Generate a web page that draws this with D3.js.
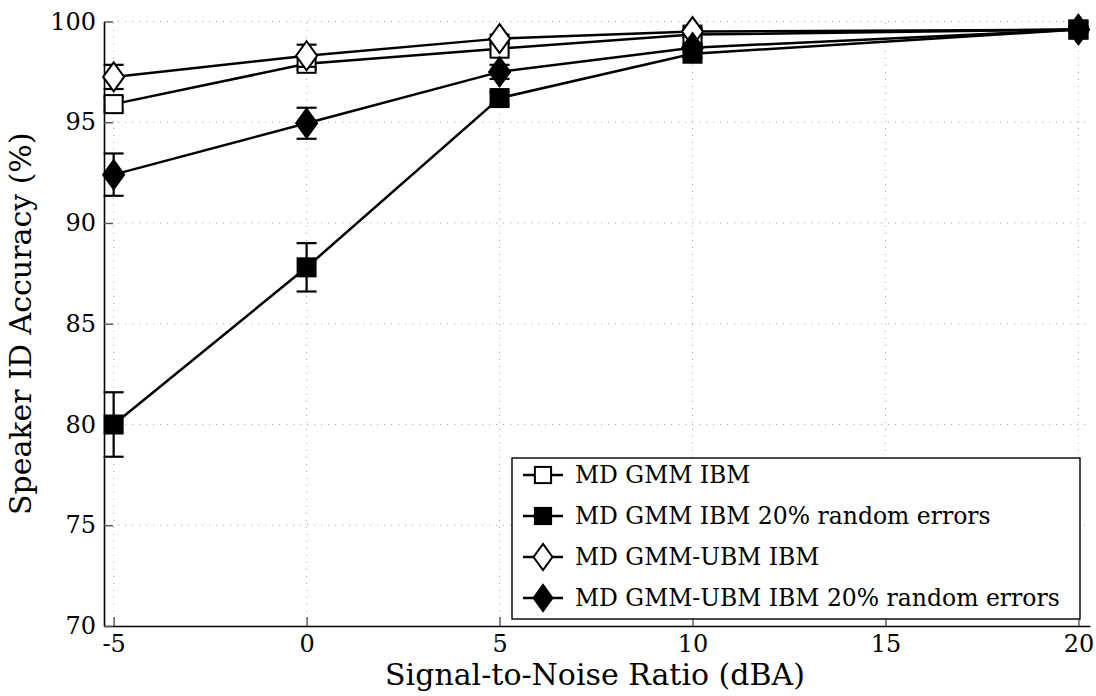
<!DOCTYPE html>
<html>
<head>
<meta charset="utf-8">
<script src="https://cdn.jsdelivr.net/npm/d3@7"></script>
<style>
  html, body { margin: 0; padding: 0; background: #fff; }
  svg { display: block; }
  text { font-family: "DejaVu Serif", serif; fill: #000; }
</style>
</head>
<body>
<svg id="chart" width="1096" height="696"></svg>
<script>
// ---- data ----
const snr = [-5, 0, 5, 10, 20];
const xTicks = [-5, 0, 5, 10, 15, 20];
const yTicks = [70, 75, 80, 85, 90, 95, 100];

const seriesNames = [
  "MD GMM IBM",
  "MD GMM IBM 20% random errors",
  "MD GMM-UBM IBM",
  "MD GMM-UBM IBM 20% random errors"
];
const gmmIbm        = [95.9, 97.9, 98.65, 99.35, 99.6];
const gmmIbmErr     = [0.35, 0.3, 0.2, 0.15, 0.1];
const gmmIbmRand    = [80.0, 87.8, 96.2, 98.4, 99.6];
const gmmIbmRandErr = [1.6, 1.2, 0.3, 0.2, 0.1];
const ubmIbm        = [97.25, 98.3, 99.15, 99.5, 99.6];
const ubmIbmErr     = [0.6, 0.55, 0.2, 0.15, 0.1];
const ubmIbmRand    = [92.4, 94.95, 97.5, 98.7, 99.6];
const ubmIbmRandErr = [1.05, 0.77, 0.35, 0.2, 0.1];

const markers = ["square", "square", "diamond", "diamond"];
const fills   = ["#fff", "#000", "#fff", "#000"];
const values  = [gmmIbm, gmmIbmRand, ubmIbm, ubmIbmRand];
const errors  = [gmmIbmErr, gmmIbmRandErr, ubmIbmErr, ubmIbmRandErr];

const series = seriesNames.map((name, i) => ({
  name, marker: markers[i], fill: fills[i],
  points: snr.map((s, j) => ({ x: s, y: values[i][j], e: errors[i][j] }))
}));

// ---- layout ----
const svg = d3.select("#chart");
const mLeft = 104, mRight = 1090, mTop = 21.5, mBottom = 626;
const x = d3.scaleLinear().domain([-5.25, 20.3]).range([mLeft, mRight]);
const y = d3.scaleLinear().domain([70, 100]).range([mBottom, mTop]);
const tickFont = 24, legendFont = 23.5, labelFont = 30;

// grid
const grid = svg.append("g").attr("stroke", "#aaa").attr("stroke-width", 1)
  .attr("stroke-dasharray", "1.2,5.8");
grid.selectAll("line.gx").data(xTicks).join("line").attr("class", "gx")
  .attr("x1", d => x(d)).attr("x2", d => x(d))
  .attr("y1", mBottom).attr("y2", mTop);
grid.selectAll("line.gy").data(yTicks.filter(d => d > 70)).join("line").attr("class", "gy")
  .attr("y1", d => y(d)).attr("y2", d => y(d))
  .attr("x1", mLeft).attr("x2", mRight);

// axes
const fmt = d => String(d);
const xAxis = svg.append("g").attr("transform", `translate(0,${mBottom})`)
  .call(d3.axisBottom(x).tickValues(xTicks).tickFormat(fmt)
    .tickSizeInner(-9).tickSizeOuter(0).tickPadding(9));
const yAxis = svg.append("g").attr("transform", `translate(${mLeft},0)`)
  .call(d3.axisLeft(y).tickValues(yTicks).tickFormat(fmt)
    .tickSizeInner(-9).tickSizeOuter(0).tickPadding(8));
[xAxis, yAxis].forEach(a => {
  a.attr("font-size", null).attr("font-family", null);
  a.select(".domain").attr("stroke", "#000").attr("stroke-width", 1.6);
  a.selectAll(".tick line").attr("stroke", "#555").attr("stroke-width", 1.4);
  a.selectAll(".tick text").style("font-family", "DejaVu Serif")
    .style("font-size", tickFont + "px").attr("fill", "#000");
});

// axis titles
svg.append("text").attr("x", (mLeft + mRight) / 2 - 2).attr("y", 685)
  .attr("text-anchor", "middle").style("font-size", labelFont + "px")
  .text("Signal-to-Noise Ratio (dBA)");
svg.append("text")
  .attr("transform", `translate(31,${(mTop + mBottom) / 2}) rotate(-90)`)
  .attr("text-anchor", "middle").style("font-size", labelFont + "px")
  .text("Speaker ID Accuracy (%)");

// marker drawing
function drawMarker(g, type, fill, cx, cy, scale = 1) {
  if (type === "square") {
    const s = 18 * scale;
    g.append("rect").attr("x", cx - s / 2).attr("y", cy - s / 2)
      .attr("width", s).attr("height", s)
      .attr("fill", fill).attr("stroke", "#000").attr("stroke-width", 2);
  } else {
    const w = 10.5 * scale, h = 14.5 * scale;
    g.append("path")
      .attr("d", `M${cx},${cy - h}L${cx + w},${cy}L${cx},${cy + h}L${cx - w},${cy}Z`)
      .attr("fill", fill).attr("stroke", "#000").attr("stroke-width", 2)
      .attr("stroke-linejoin", "miter");
  }
}

const line = d3.line().x(d => x(d.x)).y(d => y(d.y));
const plot = svg.append("g");
series.forEach(s => {
  const g = plot.append("g");
  g.append("path").datum(s.points).attr("d", line)
    .attr("fill", "none").attr("stroke", "#000").attr("stroke-width", 2.5);
  const cap = 10;
  s.points.forEach(p => {
    const px = x(p.x), y1 = y(p.y + p.e), y2 = y(p.y - p.e);
    g.append("line").attr("x1", px).attr("x2", px).attr("y1", y1).attr("y2", y2)
      .attr("stroke", "#000").attr("stroke-width", 2.2);
    [y1, y2].forEach(yy => g.append("line")
      .attr("x1", px - cap).attr("x2", px + cap).attr("y1", yy).attr("y2", yy)
      .attr("stroke", "#000").attr("stroke-width", 2.2));
  });
  s.points.forEach(p => drawMarker(g, s.marker, s.fill, x(p.x), y(p.y)));
});

// legend
const lg = svg.append("g");
const lx = 512, ly = 458, lw = 568, lh = 161;
lg.append("rect").attr("x", lx).attr("y", ly).attr("width", lw).attr("height", lh)
  .attr("fill", "#fff").attr("stroke", "#000").attr("stroke-width", 1.4);
series.forEach((s, i) => {
  const cy = ly + 17 + i * 41;
  lg.append("line").attr("x1", lx + 11).attr("x2", lx + 51).attr("y1", cy).attr("y2", cy)
    .attr("stroke", "#000").attr("stroke-width", 2.4);
  drawMarker(lg, s.marker, s.fill, lx + 31, cy, 0.9);
  lg.append("text").attr("x", lx + 63).attr("y", cy).attr("dy", "0.35em")
    .style("font-size", legendFont + "px").text(s.name);
});
</script>
</body>
</html>
